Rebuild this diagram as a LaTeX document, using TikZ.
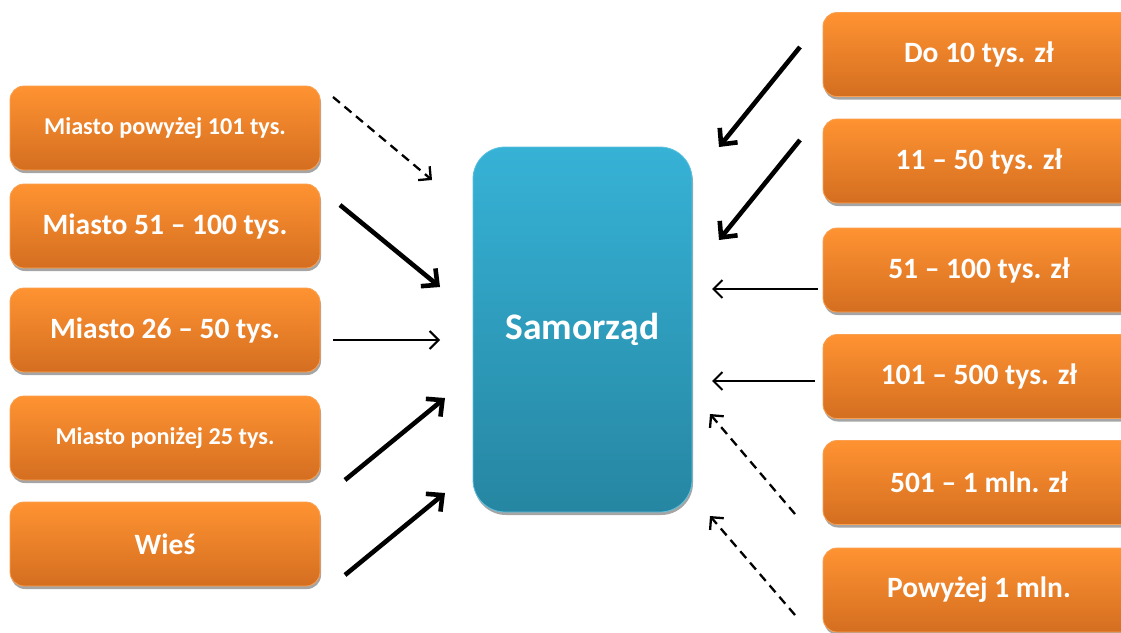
\documentclass[tikz,border=0pt]{standalone}
\usepackage{fontspec}
\setmainfont{Carlito}
\usetikzlibrary{arrows.meta,shadows}
\definecolor{orTop}{RGB}{255,147,50}
\definecolor{orBot}{RGB}{212,110,32}
\definecolor{orEdge}{RGB}{250,160,80}
\definecolor{blTop}{RGB}{54,178,214}
\definecolor{blBot}{RGB}{38,134,162}
\definecolor{shd}{RGB}{165,165,165}
\tikzset{
  obox/.style={rectangle, rounded corners=14pt, minimum width=310pt, minimum height=84pt,
    top color=orTop, bottom color=orBot, draw=orEdge, line width=0.8pt,
    drop shadow={shadow xshift=1pt, shadow yshift=-3pt, fill=shd, opacity=1},
    text=white, font=\bfseries\fontsize{29.5}{32}\selectfont, inner sep=0pt},
  osmall/.style={font=\bfseries\fontsize{24.2}{27}\selectfont},
  bbox/.style={rectangle, rounded corners=32pt, minimum width=219pt, minimum height=365pt,
    top color=blTop, bottom color=blBot, draw=blTop!80!white, line width=0.8pt,
    drop shadow={shadow xshift=1pt, shadow yshift=-3pt, fill=shd, opacity=1},
    text=white, font=\bfseries\fontsize{37.5}{40}\selectfont},
  thickarr/.style={line width=4.6pt, -{Straight Barb[length=12pt,width=23pt,line width=4.6pt]}},
  thinarr/.style={line width=2pt, -{Straight Barb[length=9pt,width=18pt,line width=2pt]}},
  dasharr/.style={line width=2.3pt, dash pattern=on 9pt off 6pt, -{Straight Barb[length=9pt,width=18pt,line width=2.3pt]}},
}
\begin{document}
\begin{tikzpicture}[x=1pt,y=-1pt]
\useasboundingbox (0,0) rectangle (1121,632);
\clip (0,0) rectangle (1121,632);
% left boxes
\node[obox,osmall] (l1) at (165,128) {Miasto powyżej 101 tys.};
\node[obox] (l2) at (165,226) {Miasto 51 – 100 tys.};
\node[obox] (l3) at (165,330) {Miasto 26 – 50 tys.};
\node[obox,osmall] (l4) at (165,438) {Miasto poniżej 25 tys.};
\node[obox] (l5) at (165,544) {Wieś};
% right boxes
\node[obox,minimum width=312pt] (r1) at (979,54.5) {Do 10 tys. zł};
\node[obox,minimum width=312pt] (r2) at (979,161) {11 – 50 tys. zł};
\node[obox,minimum width=312pt] (r3) at (979,270) {51 – 100 tys. zł};
\node[obox,minimum width=312pt] (r4) at (979,376.5) {101 – 500 tys. zł};
\node[obox,minimum width=312pt] (r5) at (979,482.5) {501 – 1 mln. zł};
\node[obox,minimum width=312pt] (r6) at (979,590) {Powyżej 1 mln.};
% center
\node[bbox] (s) at (582.5,329.5) {Samorząd};
% arrow end points
\coordinate (a1s) at (333,97);  \coordinate (a1e) at (432,180);
\coordinate (a2s) at (340,205); \coordinate (a2e) at (440,287);
\coordinate (a3s) at (333,340); \coordinate (a3e) at (440,340);
\coordinate (a4s) at (345,480); \coordinate (a4e) at (445,398);
\coordinate (a5s) at (345,575); \coordinate (a5e) at (445,493);
\coordinate (b1s) at (800,47);  \coordinate (b1e) at (719,147);
\coordinate (b2s) at (800,140); \coordinate (b2e) at (719,240);
\coordinate (b3s) at (818,289); \coordinate (b3e) at (712,289);
\coordinate (b4s) at (815,381); \coordinate (b4e) at (712,381);
\coordinate (b5s) at (795,514); \coordinate (b5e) at (710,414);
\coordinate (b6s) at (795,615); \coordinate (b6e) at (710,516);
\draw[dasharr] (a1s) -- (a1e);
\draw[thickarr] (a2s) -- (a2e);
\draw[thinarr] (a3s) -- (a3e);
\draw[thickarr] (a4s) -- (a4e);
\draw[thickarr] (a5s) -- (a5e);
\draw[thickarr] (b1s) -- (b1e);
\draw[thickarr] (b2s) -- (b2e);
\draw[thinarr] (b3s) -- (b3e);
\draw[thinarr] (b4s) -- (b4e);
\draw[dasharr] (b5s) -- (b5e);
\draw[dasharr] (b6s) -- (b6e);
\end{tikzpicture}
\end{document}
